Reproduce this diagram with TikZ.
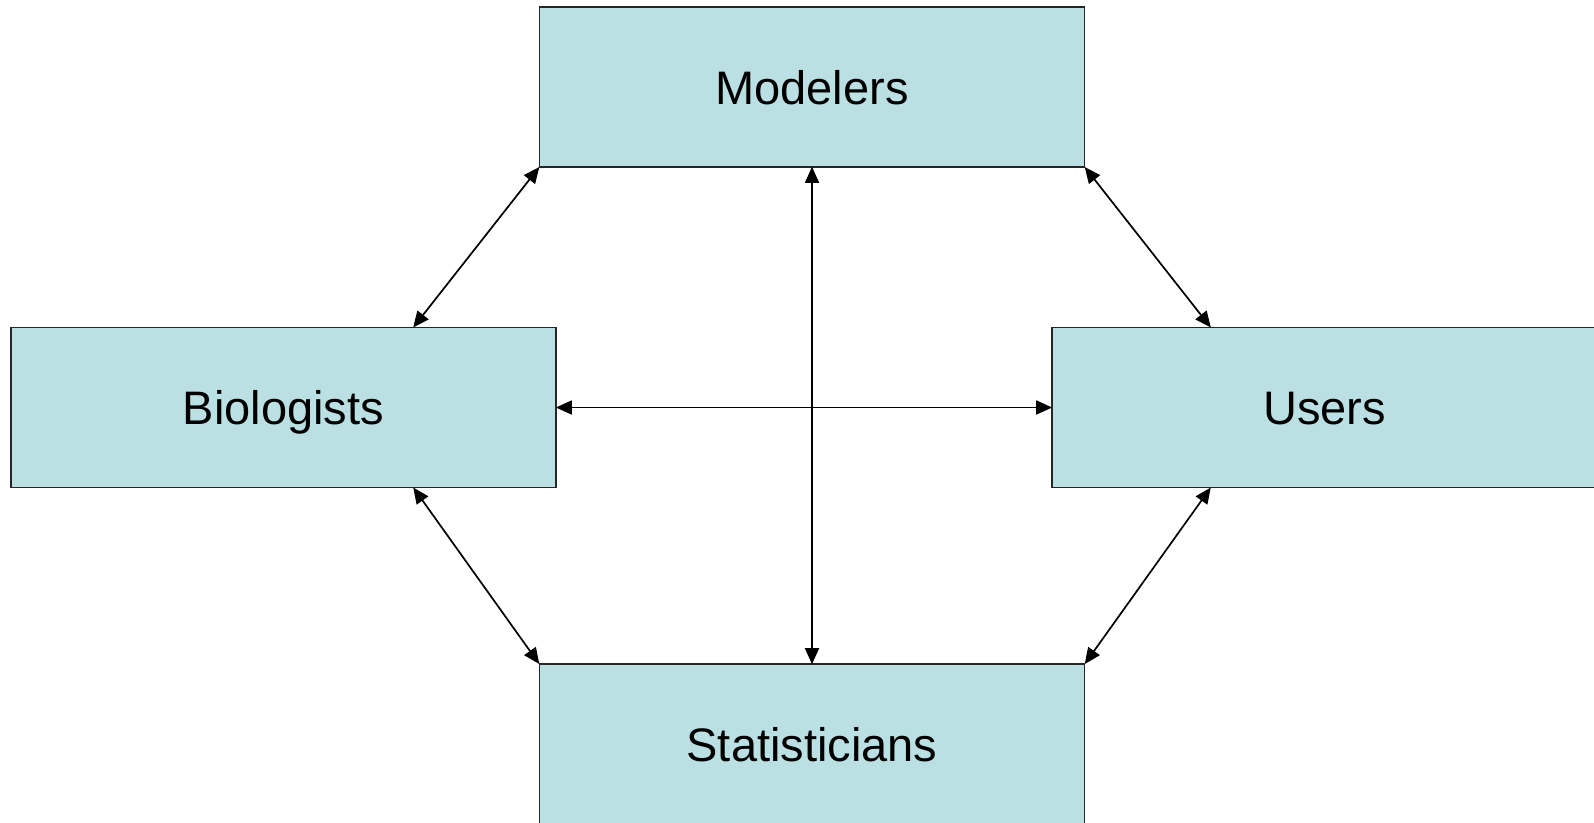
\documentclass[tikz,border=0pt]{standalone}
\usepackage{fontspec}
\setmainfont{Liberation Sans}
\usetikzlibrary{shapes,arrows.meta,positioning}
\definecolor{boxfill}{HTML}{BBE0E3}
\tikzstyle{group} = [rectangle, draw=black!85, fill=boxfill, line width=1.6pt, minimum width=545pt, minimum height=160pt, inner sep=0pt, text height=34pt, text depth=0pt, font=\fontsize{47}{56}\selectfont]
\tikzstyle{link}  = [draw, line width=1.7pt, {Triangle[length=16pt,width=14pt]}-{Triangle[length=16pt,width=14pt]}, shorten <=-1pt, shorten >=-1pt]

\begin{document}
\begin{tikzpicture}[x=1pt, y=-1pt]
        \useasboundingbox (0,0) rectangle (1594,822);
        \node [group] (modelers) at (812,87) {Modelers};
        \node [group] (biologists) at (283.5,407.5) {Biologists};
        \node [group] (users) at (1324.5,407.5) {Users};
        \node [group] (statisticians) at (812,744) {Statisticians};

        \path [link] (modelers.south west) -- ([xshift=-143pt]biologists.north east);
        \path [link] (modelers.south east) -- ([xshift=159pt]users.north west);
        \path [link] (modelers.south) -- (statisticians.north);
        \path [link] (biologists.east) -- (users.west);
        \path [link] ([xshift=-143pt]biologists.south east) -- (statisticians.north west);
        \path [link] ([xshift=159pt]users.south west) -- (statisticians.north east);
      \end{tikzpicture}
\end{document}
